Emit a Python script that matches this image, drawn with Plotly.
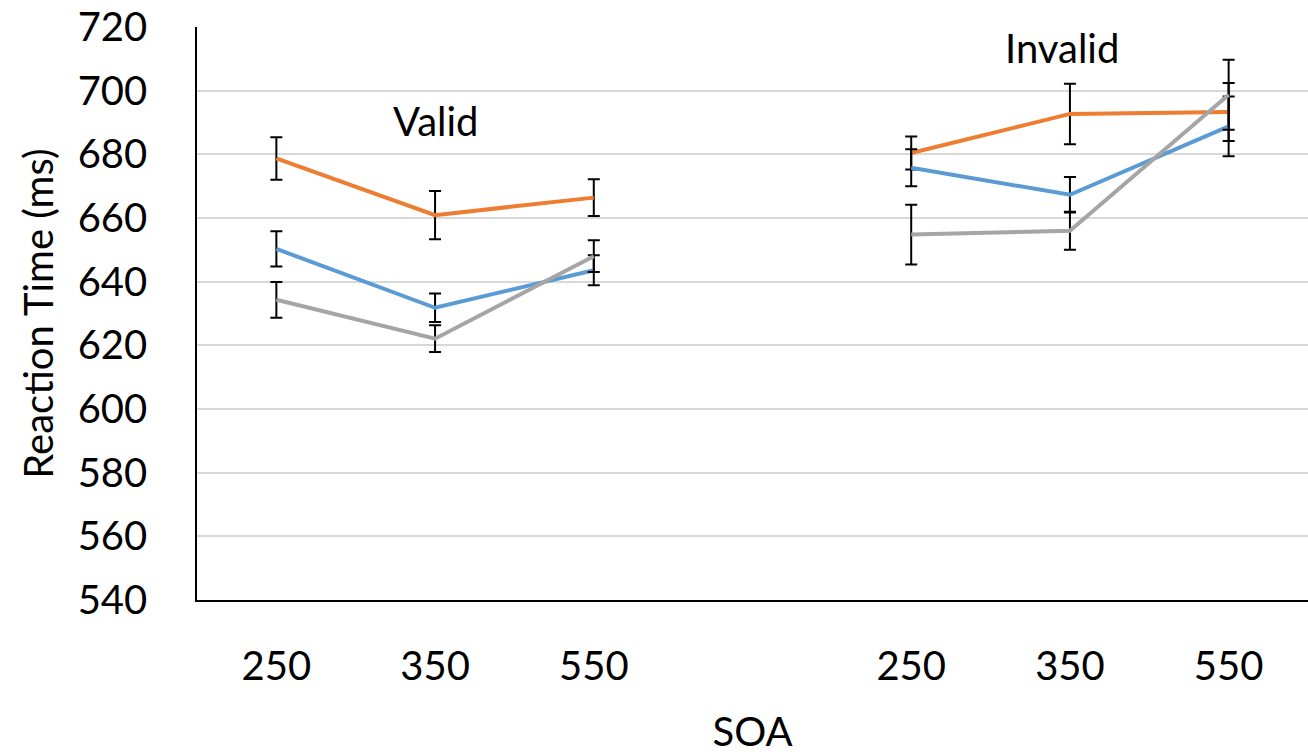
import plotly.graph_objects as go

# Categories: positions 0,1,2 = Valid; 4,5,6 = Invalid (3 is empty gap)
x_pos = [0, 1, 2, 3, 4, 5, 6]
tick_labels = ["250", "350", "550", "", "250", "350", "550"]

orange_vals = [678.7, 660.9, 666.4, None, 680.4, 692.7, 693.3]
orange_err = [6.7, 7.6, 5.8, None, 5.2, 9.5, 9.1]

blue_vals = [650.3, 631.8, 643.6, None, 675.8, 667.3, 688.8]
blue_err = [5.5, 4.5, 4.7, None, 5.8, 5.6, 9.4]

gray_vals = [634.3, 622.1, 648.0, None, 654.8, 656.0, 698.7]
gray_err = [5.6, 4.2, 5.0, None, 9.4, 6.0, 11.0]

series = [
    ("Orange", orange_vals, orange_err, "#ED7D31"),
    ("Blue", blue_vals, blue_err, "#5B9BD5"),
    ("Gray", gray_vals, gray_err, "#A5A5A5"),
]

FONT = "Lato"
FS = 40

fig = go.Figure()
for name, vals, errs, color in series:
    fig.add_trace(go.Scatter(
        x=x_pos, y=vals, mode="lines", name=name,
        line=dict(color=color, width=4),
        connectgaps=False,
        error_y=dict(type="data", array=errs, visible=True,
                     color="black", thickness=2, width=6),
        showlegend=False,
    ))

fig.add_annotation(x=1, y=690.5, text="Valid", showarrow=False,
                   font=dict(family=FONT, size=FS, color="black"))
fig.add_annotation(x=4.95, y=713.5, text="Invalid", showarrow=False,
                   font=dict(family=FONT, size=FS, color="black"))

fig.update_layout(
    width=1308, height=755,
    margin=dict(l=197, r=0, t=27, b=155),
    plot_bgcolor="white", paper_bgcolor="white",
    font=dict(family=FONT, size=FS, color="black"),
    xaxis=dict(
        range=[-0.5, 6.5],
        tickmode="array", tickvals=x_pos, ticktext=tick_labels,
        showgrid=False, zeroline=False,
        showline=True, linecolor="black", linewidth=1.5,
        ticks="", ticklabelstandoff=30,
        tickfont=dict(family=FONT, size=FS),
        title=dict(text="SOA", font=dict(family=FONT, size=FS), standoff=36),
    ),
    yaxis=dict(
        range=[540, 720], automargin=False,
        tickmode="array", tickvals=list(range(540, 721, 20)),
        showgrid=True, gridcolor="#d9d9d9", gridwidth=1.5,
        zeroline=False,
        showline=True, linecolor="black", linewidth=1.5,
        ticks="", ticklabelstandoff=40, ticklabeloverflow="allow",
        tickfont=dict(family=FONT, size=FS),
        title=dict(text="Reaction Time (ms)", font=dict(family=FONT, size=FS), standoff=12),
    ),
)

fig.write_html("out.html",
               config={"displayModeBar": False},
               post_script="document.body.style.margin='0';document.body.style.padding='0';")
